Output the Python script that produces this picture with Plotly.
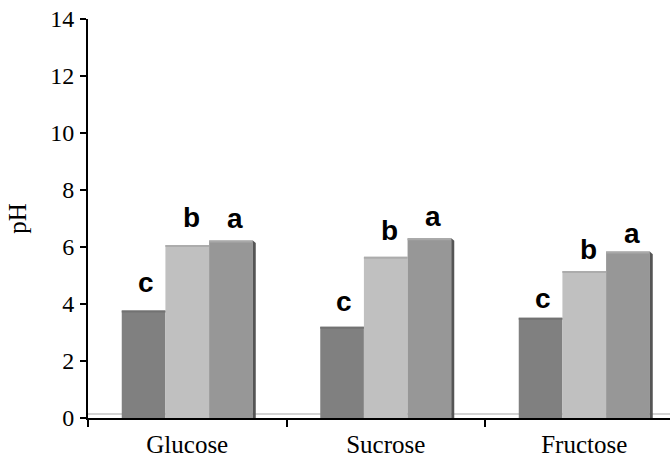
import plotly.graph_objects as go

# Sugar source on the x axis, three treatments per group
sugars = ["Glucose", "Sucrose", "Fructose"]
ph_dark = [3.77, 3.20, 3.52]
ph_light = [6.07, 5.66, 5.16]
ph_mid = [6.23, 6.31, 5.84]
letters_dark = ["c", "c", "c"]
letters_light = ["b", "b", "b"]
letters_mid = ["a", "a", "a"]
y_ticks = [0, 2, 4, 6, 8, 10, 12, 14]

series = [
    (ph_dark, letters_dark, "#808080", "#727272"),
    (ph_light, letters_light, "#c0c0c0", "#acacac"),
    (ph_mid, letters_mid, "#979797", "#a9a9a9"),
]
# extra lift (px) of each significance letter above its bar, per series
label_lift = [[11, 8, 2], [10, 9, 4], [4, 4, 1]]
label_nudge = [2, 4, 4]

SERIF = "Liberation Serif"
W, H = 670, 457
ML, MR, MT, MB = 88, 0, 19, 39
X_RANGE = [-0.5, -0.5 + (W - ML - MR) / 198.5]
BARGAP = 0.34

fig = go.Figure()
for vals, _, color, _ in series:
    fig.add_trace(go.Bar(x=sugars, y=vals, marker=dict(color=color, line=dict(width=0)),
                         showlegend=False, hoverinfo="skip"))

n = len(series)
px_per_cat = (W - ML - MR) / (X_RANGE[1] - X_RANGE[0])
bar_w = (1 - BARGAP) / n  # in category units
shapes = []
annotations = []

# faint floor line just above the x axis
shapes.append(dict(type="line", xref="paper", x0=0, x1=1, yref="y", ysizemode="pixel",
                   yanchor=0, y0=4, y1=4, line=dict(color="#c4c4c4", width=1.5), layer="below"))

for k, (vals, letters, color, top) in enumerate(series):
    for i, v in enumerate(vals):
        left = i - (1 - BARGAP) / 2 + k * bar_w
        right = left + bar_w
        # thin top face of each bar
        shapes.append(dict(type="rect", xref="x", x0=left, x1=right, yref="y", ysizemode="pixel",
                           yanchor=v, y0=-2, y1=0, fillcolor=top, line=dict(width=0), layer="above"))
        if k == n - 1:
            # shaded side face on the last bar of each group
            shapes.append(dict(type="path", xref="x", xsizemode="pixel", xanchor=right, yref="y",
                               path=f"M0,0 L0,{v} L3,{v - 0.09} L3,0 Z",
                               fillcolor="#555555", line=dict(width=0), layer="above"))
        annotations.append(dict(
            x=sugars[i], y=v, xref="x", yref="y", text=letters[i], showarrow=False,
            xanchor="center", yanchor="bottom",
            xshift=(k - (n - 1) / 2) * bar_w * px_per_cat + label_nudge[k],
            yshift=label_lift[k][i],
            font=dict(family="Liberation Sans", size=28, color="black", weight="bold"),
        ))

fig.update_layout(
    width=W, height=H,
    margin=dict(l=ML, r=MR, t=MT, b=MB),
    paper_bgcolor="white", plot_bgcolor="white",
    barmode="group", bargap=BARGAP, bargroupgap=0,
    shapes=shapes, annotations=annotations,
    font=dict(family=SERIF, size=24, color="black"),
)
fig.update_xaxes(
    range=X_RANGE, showline=True, linecolor="black", linewidth=2,
    ticks="outside", tickson="boundaries", ticklen=7, tickwidth=2, tickcolor="black",
    showgrid=False, zeroline=False, ticklabelstandoff=3,
    tickfont=dict(family=SERIF, size=25, color="black"),
)
fig.update_yaxes(
    range=[0, 14], tickvals=y_ticks, showline=True, linecolor="black", linewidth=2,
    ticks="outside", ticklen=6, tickwidth=2, tickcolor="black",
    showgrid=False, zeroline=False, ticklabelstandoff=1,
    tickfont=dict(family=SERIF, size=24, color="black"),
    title=dict(text="pH", font=dict(family=SERIF, size=25, color="black"), standoff=16),
)

fig.write_html("out.html")
